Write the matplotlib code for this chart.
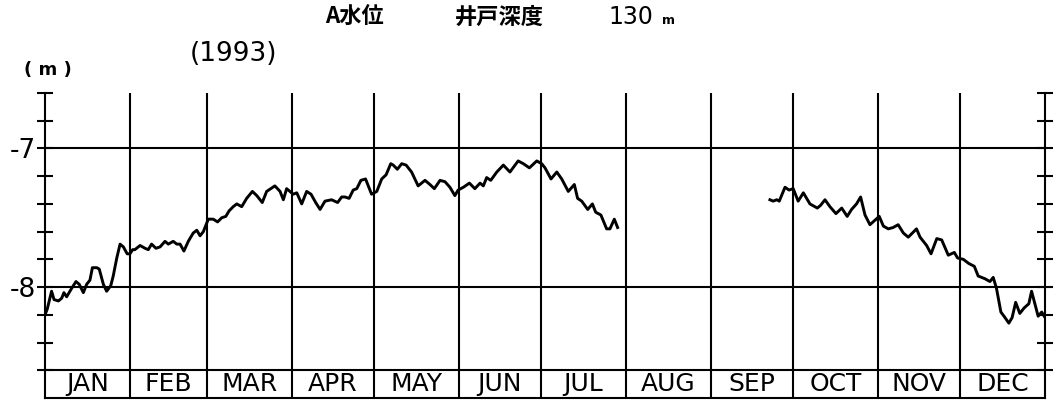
import numpy as np
import matplotlib.pyplot as plt

# month strip along the bottom
months = ["JAN", "FEB", "MAR", "APR", "MAY", "JUN",
          "JUL", "AUG", "SEP", "OCT", "NOV", "DEC"]
month_days = [31, 28, 31, 30, 31, 30, 31, 31, 30, 31, 30, 31]

# y axis: ticks every 0.2 m, labelled only at whole metres
y_ticks = [-8.6, -8.4, -8.2, -8.0, -7.8, -7.6, -7.4, -7.2, -7.0, -6.8, -6.6]
y_tick_labels = ["", "", "", "-8", "", "", "", "", "-7", "", ""]
grid_levels = [-7.0, -8.0]

# water level (m), day of year 1993 - Jan to late Jul
spring_days = [0, 0.8, 2.4, 3.3, 4.9, 6.1, 6.9, 7.9, 9.7, 11.3,
               12.5, 14.0, 15.2, 16.4, 17.3, 18.9, 19.8, 21.3, 22.5, 24.0,
               24.9, 26.2, 27.4, 28.6, 30.0, 31.0, 32.0, 32.8, 34.7, 36.5,
               37.7, 38.9, 40.5, 42.0, 43.8, 45.0, 46.8, 48.1, 49.3, 50.7,
               52.3, 54.1, 55.4, 56.6, 57.8, 59.6, 61.4, 63.0, 64.5, 66.0,
               67.2, 68.7, 70.0, 71.8, 73.6, 75.7, 77.3, 79.3, 80.9, 83.9,
               85.8, 87.0, 88.2, 90.6, 91.9, 93.7, 95.5, 97.1, 98.8, 100.4,
               102.2, 104.6, 106.8, 108.3, 109.5, 111.0, 112.5, 113.8, 115.3, 117.0,
               119.2, 121.1, 122.9, 124.5, 126.2, 127.1, 128.6, 130.2, 131.8, 133.8,
               136.2, 138.7, 140.5, 142.1, 144.2, 146.0, 147.8, 149.6, 150.8, 152.7,
               154.9, 156.9, 158.8, 160.0, 161.2, 162.7, 164.9, 167.3, 169.7, 172.7,
               174.6, 176.8, 179.5, 181.3, 182.5, 184.7, 186.8, 188.6, 191.0, 193.2,
               194.4, 195.9, 198.1, 199.8, 201.0, 202.9, 205.0, 206.2, 207.8, 209.0]
spring_level = [-8.20, -8.16, -8.03, -8.09, -8.10, -8.08, -8.04, -8.07, -8.01, -7.96,
                -7.98, -8.04, -7.98, -7.95, -7.86, -7.86, -7.87, -7.98, -8.03, -7.99,
                -7.92, -7.79, -7.69, -7.71, -7.76, -7.76, -7.73, -7.73, -7.70, -7.72,
                -7.73, -7.69, -7.72, -7.71, -7.67, -7.69, -7.67, -7.69, -7.69, -7.74,
                -7.67, -7.61, -7.59, -7.63, -7.60, -7.51, -7.51, -7.53, -7.50, -7.49,
                -7.45, -7.42, -7.40, -7.42, -7.36, -7.31, -7.34, -7.39, -7.31, -7.27,
                -7.31, -7.37, -7.29, -7.33, -7.32, -7.40, -7.31, -7.33, -7.39, -7.44,
                -7.38, -7.37, -7.39, -7.35, -7.35, -7.36, -7.30, -7.29, -7.23, -7.22,
                -7.33, -7.31, -7.22, -7.19, -7.11, -7.12, -7.15, -7.11, -7.12, -7.17,
                -7.27, -7.23, -7.26, -7.29, -7.23, -7.24, -7.28, -7.34, -7.30, -7.28,
                -7.25, -7.29, -7.25, -7.27, -7.21, -7.23, -7.17, -7.12, -7.17, -7.09,
                -7.11, -7.14, -7.09, -7.11, -7.14, -7.22, -7.17, -7.22, -7.31, -7.26,
                -7.36, -7.38, -7.44, -7.40, -7.46, -7.48, -7.58, -7.58, -7.51, -7.57]

# late Sep to end of Dec
autumn_days = [264.6, 265.8, 267.1, 268.0, 270.1, 271.6, 273.1, 274.9, 276.8, 279.2,
               281.9, 283.1, 284.7, 286.5, 288.7, 290.8, 292.8, 294.4, 296.2, 297.7,
               299.3, 301.1, 304.5, 306.0, 307.8, 309.6, 311.4, 313.3, 315.1, 318.1,
               319.4, 321.8, 323.4, 325.5, 327.3, 329.7, 331.9, 333.1, 335.2, 337.2,
               339.2, 340.6, 343.1, 344.9, 346.1, 347.3, 348.9, 350.4, 351.8, 353.0,
               354.3, 355.8, 357.4, 359.1, 360.1, 361.3, 362.5, 363.8, 364.7]
autumn_level = [-7.37, -7.38, -7.37, -7.38, -7.28, -7.30, -7.29, -7.38, -7.32, -7.40,
                -7.43, -7.41, -7.37, -7.42, -7.47, -7.43, -7.49, -7.44, -7.40, -7.35,
                -7.48, -7.55, -7.49, -7.56, -7.58, -7.57, -7.55, -7.61, -7.64, -7.58,
                -7.64, -7.70, -7.76, -7.65, -7.66, -7.77, -7.75, -7.79, -7.80, -7.83,
                -7.85, -7.92, -7.94, -7.96, -7.93, -8.01, -8.18, -8.22, -8.26, -8.22,
                -8.11, -8.19, -8.15, -8.12, -8.03, -8.12, -8.21, -8.18, -8.21]

plt.rcParams["font.family"] = ["DejaVu Sans"]
CJK = ["Noto Sans CJK JP", "DejaVu Sans"]

W, H = 1059, 405
fig = plt.figure(figsize=(W / 100, H / 100), dpi=100)
ax = fig.add_axes([45 / W, (H - 398) / H, 1000 / W, (398 - 93) / H])

edges = np.concatenate([[0], np.cumsum(month_days)])
y_top, y_axis, y_bottom = -6.6, -8.6, -8.8
ax.set_xlim(0, 365)
ax.set_ylim(y_bottom, y_top)

lw = 1.5
ax.vlines(edges[1:-1], y_bottom, y_top, color="black", lw=lw)
ax.hlines(grid_levels + [y_axis], 0, 365, color="black", lw=lw)

ax.plot(spring_days, spring_level, color="black", lw=2.1)
ax.plot(autumn_days, autumn_level, color="black", lw=2.1)

for name, lo, hi in zip(months, edges[:-1], edges[1:]):
    ax.text((lo + hi) / 2, (y_axis + y_bottom) / 2, name, ha="center",
            va="center", fontsize=18)

for side in ["left", "right", "bottom"]:
    ax.spines[side].set_linewidth(lw)
ax.spines["top"].set_visible(False)

ax.set_xticks([])
ax.set_yticks(y_ticks)
ax.set_yticklabels(y_tick_labels)
ax.tick_params(axis="y", direction="inout", length=11, width=lw,
               left=True, right=True, labelsize=19, pad=1)

# titles
fig.text(325 / W, 1 - 17 / H, "A水位", family=CJK, fontsize=16,
         fontweight="bold", va="center")
fig.text(455 / W, 1 - 17 / H, "井戸深度", family=CJK, fontsize=16,
         fontweight="bold", va="center")
fig.text(608 / W, 1 - 17 / H, "130", fontsize=17, va="center")
fig.text(662 / W, 1 - 21 / H, "m", fontsize=9, fontweight="bold", va="center")
fig.text(190 / W, 1 - 54 / H, "(1993)", fontsize=19, va="center")
fig.text(24 / W, 1 - 70 / H, "( m )", fontsize=13, fontweight="bold",
         va="center")

fig.savefig("out.png", dpi=100)
